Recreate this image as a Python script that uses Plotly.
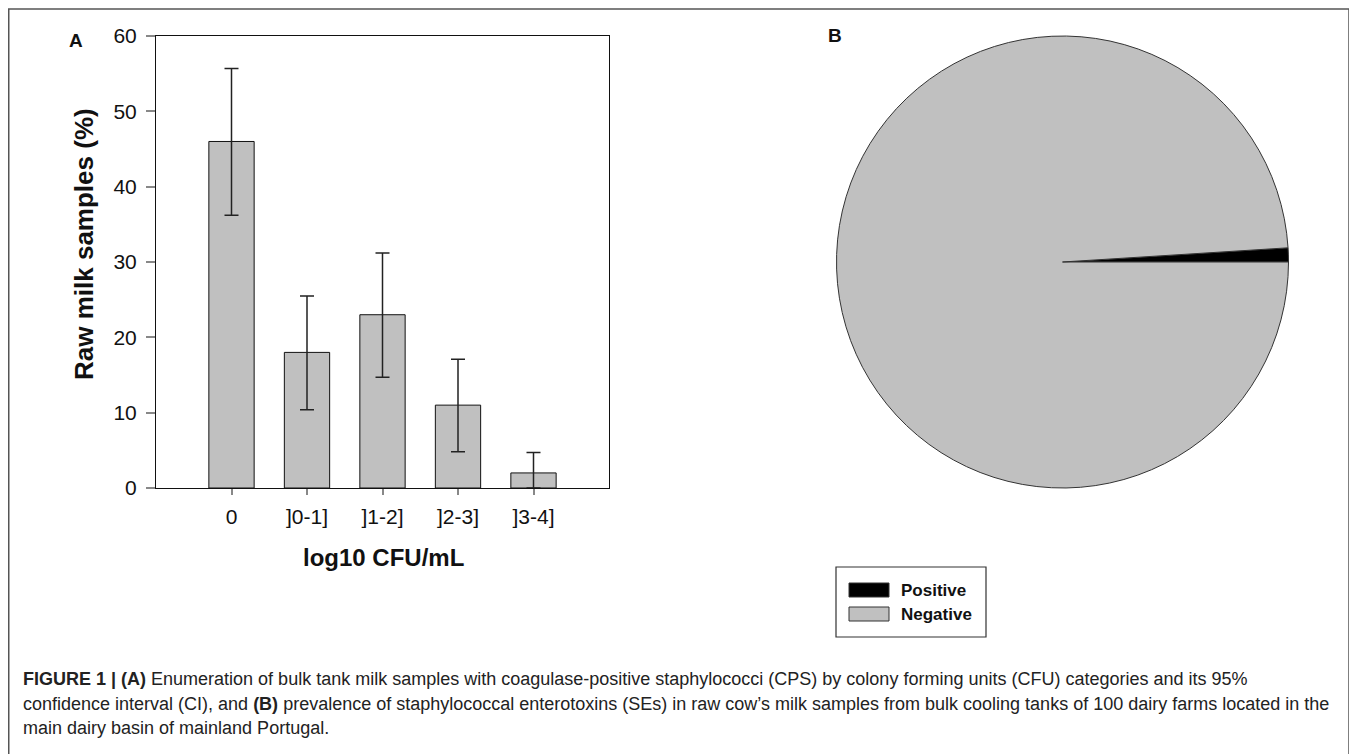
import plotly.graph_objects as go

# ---- data ----
categories = ["0", "]0-1]", "]1-2]", "]2-3]", "]3-4]"]
pct = [46, 18, 23, 11, 2]
ci_low = [36.2, 10.4, 14.7, 4.8, 0.0]
ci_high = [55.7, 25.5, 31.2, 17.1, 4.7]

pie_labels = ["Positive", "Negative"]
pie_values = [1, 99]
pie_colors = ["#000000", "#c0c0c0"]

W, H = 1357, 754
OFF = 8  # page body margin compensation


def px(x):
    return (x - OFF) / W


def py(y):
    return 1 - (y - OFF) / H


err_plus = [h - v for h, v in zip(ci_high, pct)]
err_minus = [v - l for v, l in zip(pct, ci_low)]

fig = go.Figure()

fig.add_trace(go.Bar(
    x=list(range(len(categories))), y=pct, width=0.6,
    marker=dict(color="#c0c0c0", line=dict(color="#111111", width=1)),
    error_y=dict(type="data", symmetric=False, array=err_plus, arrayminus=err_minus,
                 color="#222222", thickness=1.5, width=7),
    showlegend=False, xaxis="x", yaxis="y",
))

# first slice placed just above the 3 o'clock direction
rot = 90 - 360 * pie_values[0] / sum(pie_values)
fig.add_trace(go.Pie(
    labels=pie_labels, values=pie_values, sort=False, direction="clockwise",
    rotation=rot, textinfo="none", automargin=False,
    marker=dict(colors=pie_colors, line=dict(color="#333333", width=1)),
    domain=dict(x=[px(836), px(1289)], y=[py(488), py(36)]),
    showlegend=False,
))

FONT = "Liberation Sans, Arial, sans-serif"
tickfont = dict(family=FONT, size=21, color="#111111")

fig.update_layout(
    width=W, height=H, autosize=False, margin=dict(l=0, r=0, t=0, b=0, pad=0),
    paper_bgcolor="white", plot_bgcolor="white",
    xaxis=dict(domain=[px(156), px(609)], range=[-1, 5], automargin=False,
               tickmode="array", tickvals=list(range(len(categories))), ticktext=categories,
               showline=True, linecolor="#111111", linewidth=1, mirror=True,
               ticks="outside", ticklen=6, tickcolor="#888888", tickwidth=1.5,
               ticklabelstandoff=4,
               showgrid=False, zeroline=False, tickfont=tickfont),
    yaxis=dict(domain=[py(488), py(36)], range=[0, 60], dtick=10, automargin=False,
               showline=True, linecolor="#111111", linewidth=1, mirror=True,
               ticks="outside", ticklen=9, tickcolor="#888888", tickwidth=1.5,
               ticklabelstandoff=5,
               showgrid=False, zeroline=False, tickfont=tickfont),
)

shapes = []
annotations = []

# outer frame
shapes.append(dict(type="rect", xref="paper", yref="paper", x0=px(8.75), x1=px(1349),
                   y0=py(790), y1=py(9), line=dict(color="#555555", width=1.5)))

# axis titles
annotations.append(dict(text="<b>log10 CFU/mL</b>", x=px(383), y=py(557), xref="paper", yref="paper",
                        xanchor="center", yanchor="middle", showarrow=False,
                        font=dict(family=FONT, size=24, color="#111")))
annotations.append(dict(text="<b>Raw milk samples (%)</b>", x=px(84), y=py(244), xref="paper", yref="paper",
                        xanchor="center", yanchor="middle", showarrow=False, textangle=-90,
                        font=dict(family=FONT, size=26, color="#111")))

# panel letters
annotations.append(dict(text="<b>A</b>", x=px(76), y=py(41), xref="paper", yref="paper",
                        xanchor="center", yanchor="middle", showarrow=False,
                        font=dict(family=FONT, size=19, color="#111")))
annotations.append(dict(text="<b>B</b>", x=px(835), y=py(35), xref="paper", yref="paper",
                        xanchor="center", yanchor="middle", showarrow=False,
                        font=dict(family=FONT, size=19, color="#111")))

# legend box for pie
shapes.append(dict(type="rect", xref="paper", yref="paper", x0=px(836), x1=px(986),
                   y0=py(637), y1=py(567), line=dict(color="#333333", width=1.2)))
sw_y = [(583, 597), (607, 621)]
for (ya, yb), lab, col in zip(sw_y, pie_labels, pie_colors):
    shapes.append(dict(type="rect", xref="paper", yref="paper", x0=px(849), x1=px(889),
                       y0=py(yb), y1=py(ya), fillcolor=col, line=dict(color="#333333", width=1)))
    annotations.append(dict(text="<b>%s</b>" % lab, x=px(899), y=py((ya + yb) / 2),
                            xref="paper", yref="paper", xanchor="left", yanchor="middle",
                            showarrow=False,
                            font=dict(family=FONT, size=17, color="#111")))

# caption
cap_lines = [
    "<b>FIGURE 1 | (A)</b> Enumeration of bulk tank milk samples with coagulase-positive staphylococci (CPS) by colony forming units (CFU) categories and its 95%",
    "confidence interval (CI), and <b>(B)</b> prevalence of staphylococcal enterotoxins (SEs) in raw cow\u2019s milk samples from bulk cooling tanks of 100 dairy farms located in the",
    "main dairy basin of mainland Portugal.",
]
for i, line in enumerate(cap_lines):
    annotations.append(dict(text=line, x=px(21), y=py(679 + 24.5 * i), xref="paper", yref="paper",
                            xanchor="left", yanchor="middle", showarrow=False,
                            font=dict(family=FONT, size=18, color="#222")))

fig.update_layout(shapes=shapes, annotations=annotations)

fig.write_html("out.html")
